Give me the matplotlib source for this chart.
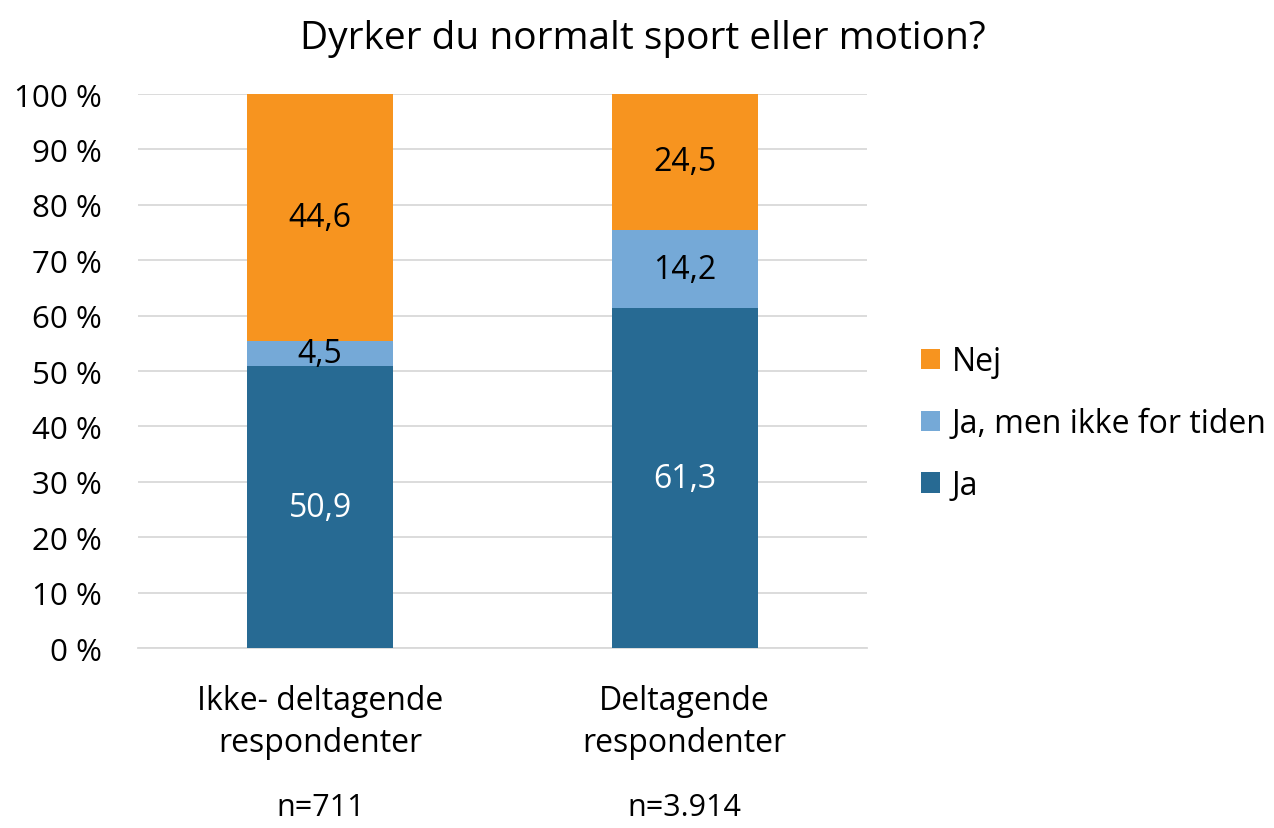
import matplotlib.pyplot as plt
import numpy as np

plt.rcParams['font.family'] = ['Open Sans', 'DejaVu Sans']

groups = ['Ikke- deltagende\nrespondenter', 'Deltagende\nrespondenter']
n_labels = ['n=711', 'n=3.914']
series = ['Ja', 'Ja, men ikke for tiden', 'Nej']
ja = [50.9, 61.3]
ja_men = [4.5, 14.2]
nej = [44.6, 24.5]
colors = ['#276A93', '#75A9D7', '#F7941F']
label_colors = ['white', 'black', 'black']

fig = plt.figure(figsize=(12.74, 8.29), dpi=100)
ax = fig.add_axes([0.1083, 0.2171, 0.5722, 0.6683])

x = np.arange(len(groups))
bottom = np.zeros(len(groups))
handles = []
for vals, name, col, lcol in zip([ja, ja_men, nej], series, colors, label_colors):
    vals = np.array(vals)
    b = ax.bar(x, vals, 0.4, bottom=bottom, color=col, label=name, zorder=3)
    handles.append(b)
    for xi, v, bo in zip(x, vals, bottom):
        ax.text(xi, bo + v / 2, f'{v:.1f}'.replace('.', ','), ha='center', va='center',
                fontsize=23, color=lcol, zorder=4)
    bottom += vals

ax.set_xlim(-0.5, 1.5)
ax.set_ylim(0, 100)
ax.set_yticks(np.arange(0, 101, 10))
ax.set_yticklabels([f'{t} %' for t in range(0, 101, 10)], fontsize=22.5)
ax.set_xticks(x)
ax.set_xticklabels(groups, fontsize=23, linespacing=1.35)
ax.tick_params(length=0, pad=26)
ax.tick_params(axis='y', pad=26)
ax.grid(axis='y', color='#D9D9D9', linewidth=1.3, zorder=0)
for s in ['top', 'right', 'left']:
    ax.spines[s].set_visible(False)
ax.spines['bottom'].set_color('#D9D9D9')
ax.spines['bottom'].set_linewidth(1.3)

for xi, nl in zip(x, n_labels):
    ax.text(xi, -0.287, nl, transform=ax.get_xaxis_transform(), ha='center', va='center', fontsize=22)

ax.legend(handles[::-1], series[::-1], loc='center left', bbox_to_anchor=(1.035, 0.405),
          frameon=False, fontsize=23, handlelength=0.6, handleheight=0.6,
          handletextpad=0.35, labelspacing=0.9)

fig.suptitle('Dyrker du normalt sport eller motion?', fontsize=28, y=0.976, x=0.505)

fig.savefig('out.png', dpi=100)
